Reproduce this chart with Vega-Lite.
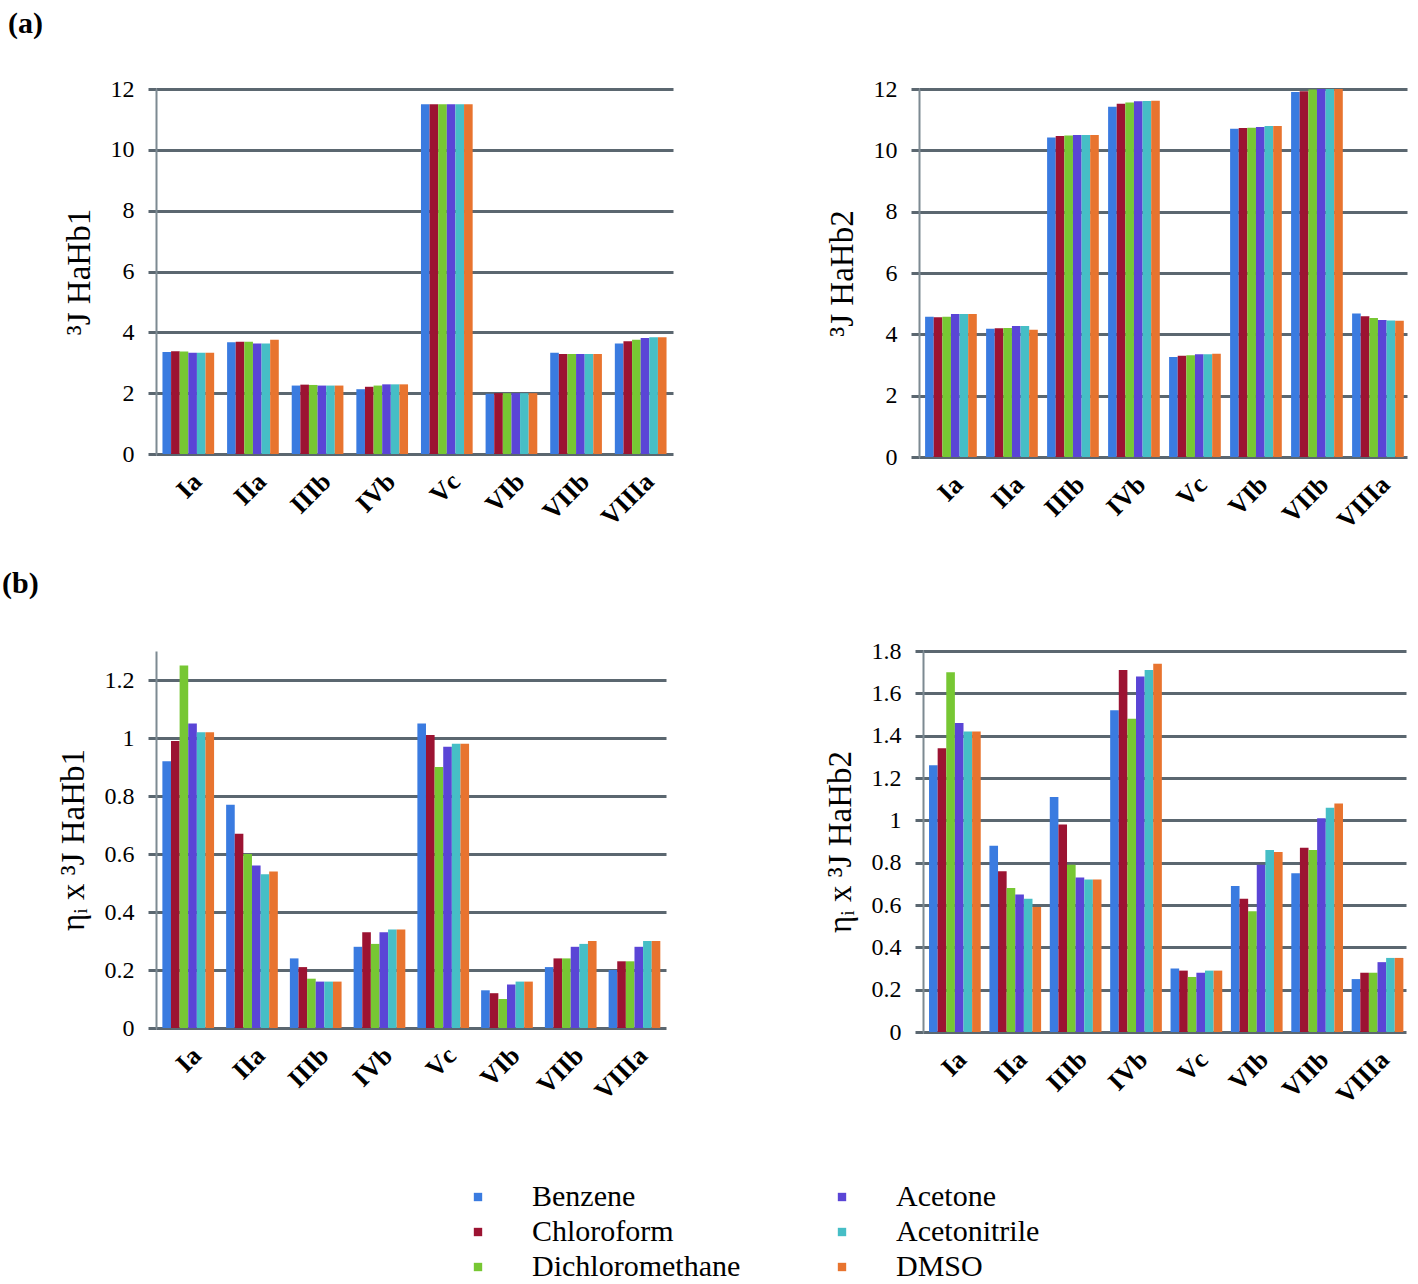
{
  "$schema": "https://vega.github.io/schema/vega-lite/v6.json",
  "padding": {"left": 2, "top": 9, "right": 10, "bottom": 2},
  "background": "white",
  "datasets": {
    "a1": [
      {"compound": "Ia", "solvent": "Benzene", "value": 3.35},
      {"compound": "Ia", "solvent": "Chloroform", "value": 3.38},
      {"compound": "Ia", "solvent": "Dichloromethane", "value": 3.37},
      {"compound": "Ia", "solvent": "Acetone", "value": 3.33},
      {"compound": "Ia", "solvent": "Acetonitrile", "value": 3.33},
      {"compound": "Ia", "solvent": "DMSO", "value": 3.33},
      {"compound": "IIa", "solvent": "Benzene", "value": 3.67},
      {"compound": "IIa", "solvent": "Chloroform", "value": 3.69},
      {"compound": "IIa", "solvent": "Dichloromethane", "value": 3.69},
      {"compound": "IIa", "solvent": "Acetone", "value": 3.63},
      {"compound": "IIa", "solvent": "Acetonitrile", "value": 3.63},
      {"compound": "IIa", "solvent": "DMSO", "value": 3.76},
      {"compound": "IIIb", "solvent": "Benzene", "value": 2.25},
      {"compound": "IIIb", "solvent": "Chloroform", "value": 2.28},
      {"compound": "IIIb", "solvent": "Dichloromethane", "value": 2.27},
      {"compound": "IIIb", "solvent": "Acetone", "value": 2.25},
      {"compound": "IIIb", "solvent": "Acetonitrile", "value": 2.25},
      {"compound": "IIIb", "solvent": "DMSO", "value": 2.25},
      {"compound": "IVb", "solvent": "Benzene", "value": 2.13},
      {"compound": "IVb", "solvent": "Chloroform", "value": 2.21},
      {"compound": "IVb", "solvent": "Dichloromethane", "value": 2.25},
      {"compound": "IVb", "solvent": "Acetone", "value": 2.29},
      {"compound": "IVb", "solvent": "Acetonitrile", "value": 2.29},
      {"compound": "IVb", "solvent": "DMSO", "value": 2.29},
      {"compound": "Vc", "solvent": "Benzene", "value": 11.5},
      {"compound": "Vc", "solvent": "Chloroform", "value": 11.5},
      {"compound": "Vc", "solvent": "Dichloromethane", "value": 11.5},
      {"compound": "Vc", "solvent": "Acetone", "value": 11.5},
      {"compound": "Vc", "solvent": "Acetonitrile", "value": 11.5},
      {"compound": "Vc", "solvent": "DMSO", "value": 11.5},
      {"compound": "VIb", "solvent": "Benzene", "value": 1.98},
      {"compound": "VIb", "solvent": "Chloroform", "value": 2.0},
      {"compound": "VIb", "solvent": "Dichloromethane", "value": 2.0},
      {"compound": "VIb", "solvent": "Acetone", "value": 2.0},
      {"compound": "VIb", "solvent": "Acetonitrile", "value": 2.0},
      {"compound": "VIb", "solvent": "DMSO", "value": 2.0},
      {"compound": "VIIb", "solvent": "Benzene", "value": 3.33},
      {"compound": "VIIb", "solvent": "Chloroform", "value": 3.29},
      {"compound": "VIIb", "solvent": "Dichloromethane", "value": 3.29},
      {"compound": "VIIb", "solvent": "Acetone", "value": 3.29},
      {"compound": "VIIb", "solvent": "Acetonitrile", "value": 3.29},
      {"compound": "VIIb", "solvent": "DMSO", "value": 3.29},
      {"compound": "VIIIa", "solvent": "Benzene", "value": 3.63},
      {"compound": "VIIIa", "solvent": "Chloroform", "value": 3.71},
      {"compound": "VIIIa", "solvent": "Dichloromethane", "value": 3.76},
      {"compound": "VIIIa", "solvent": "Acetone", "value": 3.81},
      {"compound": "VIIIa", "solvent": "Acetonitrile", "value": 3.84},
      {"compound": "VIIIa", "solvent": "DMSO", "value": 3.84}
    ],
    "a2": [
      {"compound": "Ia", "solvent": "Benzene", "value": 4.57},
      {"compound": "Ia", "solvent": "Chloroform", "value": 4.56},
      {"compound": "Ia", "solvent": "Dichloromethane", "value": 4.57},
      {"compound": "Ia", "solvent": "Acetone", "value": 4.66},
      {"compound": "Ia", "solvent": "Acetonitrile", "value": 4.66},
      {"compound": "Ia", "solvent": "DMSO", "value": 4.66},
      {"compound": "IIa", "solvent": "Benzene", "value": 4.18},
      {"compound": "IIa", "solvent": "Chloroform", "value": 4.2},
      {"compound": "IIa", "solvent": "Dichloromethane", "value": 4.21},
      {"compound": "IIa", "solvent": "Acetone", "value": 4.27},
      {"compound": "IIa", "solvent": "Acetonitrile", "value": 4.27},
      {"compound": "IIa", "solvent": "DMSO", "value": 4.15},
      {"compound": "IIIb", "solvent": "Benzene", "value": 10.42},
      {"compound": "IIIb", "solvent": "Chloroform", "value": 10.47},
      {"compound": "IIIb", "solvent": "Dichloromethane", "value": 10.48},
      {"compound": "IIIb", "solvent": "Acetone", "value": 10.5},
      {"compound": "IIIb", "solvent": "Acetonitrile", "value": 10.5},
      {"compound": "IIIb", "solvent": "DMSO", "value": 10.5},
      {"compound": "IVb", "solvent": "Benzene", "value": 11.42},
      {"compound": "IVb", "solvent": "Chloroform", "value": 11.52},
      {"compound": "IVb", "solvent": "Dichloromethane", "value": 11.56},
      {"compound": "IVb", "solvent": "Acetone", "value": 11.6},
      {"compound": "IVb", "solvent": "Acetonitrile", "value": 11.61},
      {"compound": "IVb", "solvent": "DMSO", "value": 11.62},
      {"compound": "Vc", "solvent": "Benzene", "value": 3.26},
      {"compound": "Vc", "solvent": "Chloroform", "value": 3.3},
      {"compound": "Vc", "solvent": "Dichloromethane", "value": 3.32},
      {"compound": "Vc", "solvent": "Acetone", "value": 3.35},
      {"compound": "Vc", "solvent": "Acetonitrile", "value": 3.35},
      {"compound": "Vc", "solvent": "DMSO", "value": 3.37},
      {"compound": "VIb", "solvent": "Benzene", "value": 10.7},
      {"compound": "VIb", "solvent": "Chloroform", "value": 10.73},
      {"compound": "VIb", "solvent": "Dichloromethane", "value": 10.74},
      {"compound": "VIb", "solvent": "Acetone", "value": 10.76},
      {"compound": "VIb", "solvent": "Acetonitrile", "value": 10.79},
      {"compound": "VIb", "solvent": "DMSO", "value": 10.79},
      {"compound": "VIIb", "solvent": "Benzene", "value": 11.9},
      {"compound": "VIIb", "solvent": "Chloroform", "value": 11.93},
      {"compound": "VIIb", "solvent": "Dichloromethane", "value": 11.98},
      {"compound": "VIIb", "solvent": "Acetone", "value": 12.0},
      {"compound": "VIIb", "solvent": "Acetonitrile", "value": 12.0},
      {"compound": "VIIb", "solvent": "DMSO", "value": 12.0},
      {"compound": "VIIIa", "solvent": "Benzene", "value": 4.68},
      {"compound": "VIIIa", "solvent": "Chloroform", "value": 4.59},
      {"compound": "VIIIa", "solvent": "Dichloromethane", "value": 4.53},
      {"compound": "VIIIa", "solvent": "Acetone", "value": 4.47},
      {"compound": "VIIIa", "solvent": "Acetonitrile", "value": 4.45},
      {"compound": "VIIIa", "solvent": "DMSO", "value": 4.44}
    ],
    "b1": [
      {"compound": "Ia", "solvent": "Benzene", "value": 0.92},
      {"compound": "Ia", "solvent": "Chloroform", "value": 0.99},
      {"compound": "Ia", "solvent": "Dichloromethane", "value": 1.25},
      {"compound": "Ia", "solvent": "Acetone", "value": 1.05},
      {"compound": "Ia", "solvent": "Acetonitrile", "value": 1.02},
      {"compound": "Ia", "solvent": "DMSO", "value": 1.02},
      {"compound": "IIa", "solvent": "Benzene", "value": 0.77},
      {"compound": "IIa", "solvent": "Chloroform", "value": 0.67},
      {"compound": "IIa", "solvent": "Dichloromethane", "value": 0.6},
      {"compound": "IIa", "solvent": "Acetone", "value": 0.56},
      {"compound": "IIa", "solvent": "Acetonitrile", "value": 0.53},
      {"compound": "IIa", "solvent": "DMSO", "value": 0.54},
      {"compound": "IIIb", "solvent": "Benzene", "value": 0.24},
      {"compound": "IIIb", "solvent": "Chloroform", "value": 0.21},
      {"compound": "IIIb", "solvent": "Dichloromethane", "value": 0.17},
      {"compound": "IIIb", "solvent": "Acetone", "value": 0.16},
      {"compound": "IIIb", "solvent": "Acetonitrile", "value": 0.16},
      {"compound": "IIIb", "solvent": "DMSO", "value": 0.16},
      {"compound": "IVb", "solvent": "Benzene", "value": 0.28},
      {"compound": "IVb", "solvent": "Chloroform", "value": 0.33},
      {"compound": "IVb", "solvent": "Dichloromethane", "value": 0.29},
      {"compound": "IVb", "solvent": "Acetone", "value": 0.33},
      {"compound": "IVb", "solvent": "Acetonitrile", "value": 0.34},
      {"compound": "IVb", "solvent": "DMSO", "value": 0.34},
      {"compound": "Vc", "solvent": "Benzene", "value": 1.05},
      {"compound": "Vc", "solvent": "Chloroform", "value": 1.01},
      {"compound": "Vc", "solvent": "Dichloromethane", "value": 0.9},
      {"compound": "Vc", "solvent": "Acetone", "value": 0.97},
      {"compound": "Vc", "solvent": "Acetonitrile", "value": 0.98},
      {"compound": "Vc", "solvent": "DMSO", "value": 0.98},
      {"compound": "VIb", "solvent": "Benzene", "value": 0.13},
      {"compound": "VIb", "solvent": "Chloroform", "value": 0.12},
      {"compound": "VIb", "solvent": "Dichloromethane", "value": 0.1},
      {"compound": "VIb", "solvent": "Acetone", "value": 0.15},
      {"compound": "VIb", "solvent": "Acetonitrile", "value": 0.16},
      {"compound": "VIb", "solvent": "DMSO", "value": 0.16},
      {"compound": "VIIb", "solvent": "Benzene", "value": 0.21},
      {"compound": "VIIb", "solvent": "Chloroform", "value": 0.24},
      {"compound": "VIIb", "solvent": "Dichloromethane", "value": 0.24},
      {"compound": "VIIb", "solvent": "Acetone", "value": 0.28},
      {"compound": "VIIb", "solvent": "Acetonitrile", "value": 0.29},
      {"compound": "VIIb", "solvent": "DMSO", "value": 0.3},
      {"compound": "VIIIa", "solvent": "Benzene", "value": 0.2},
      {"compound": "VIIIa", "solvent": "Chloroform", "value": 0.23},
      {"compound": "VIIIa", "solvent": "Dichloromethane", "value": 0.23},
      {"compound": "VIIIa", "solvent": "Acetone", "value": 0.28},
      {"compound": "VIIIa", "solvent": "Acetonitrile", "value": 0.3},
      {"compound": "VIIIa", "solvent": "DMSO", "value": 0.3}
    ],
    "b2": [
      {"compound": "Ia", "solvent": "Benzene", "value": 1.26},
      {"compound": "Ia", "solvent": "Chloroform", "value": 1.34},
      {"compound": "Ia", "solvent": "Dichloromethane", "value": 1.7},
      {"compound": "Ia", "solvent": "Acetone", "value": 1.46},
      {"compound": "Ia", "solvent": "Acetonitrile", "value": 1.42},
      {"compound": "Ia", "solvent": "DMSO", "value": 1.42},
      {"compound": "IIa", "solvent": "Benzene", "value": 0.88},
      {"compound": "IIa", "solvent": "Chloroform", "value": 0.76},
      {"compound": "IIa", "solvent": "Dichloromethane", "value": 0.68},
      {"compound": "IIa", "solvent": "Acetone", "value": 0.65},
      {"compound": "IIa", "solvent": "Acetonitrile", "value": 0.63},
      {"compound": "IIa", "solvent": "DMSO", "value": 0.59},
      {"compound": "IIIb", "solvent": "Benzene", "value": 1.11},
      {"compound": "IIIb", "solvent": "Chloroform", "value": 0.98},
      {"compound": "IIIb", "solvent": "Dichloromethane", "value": 0.79},
      {"compound": "IIIb", "solvent": "Acetone", "value": 0.73},
      {"compound": "IIIb", "solvent": "Acetonitrile", "value": 0.72},
      {"compound": "IIIb", "solvent": "DMSO", "value": 0.72},
      {"compound": "IVb", "solvent": "Benzene", "value": 1.52},
      {"compound": "IVb", "solvent": "Chloroform", "value": 1.71},
      {"compound": "IVb", "solvent": "Dichloromethane", "value": 1.48},
      {"compound": "IVb", "solvent": "Acetone", "value": 1.68},
      {"compound": "IVb", "solvent": "Acetonitrile", "value": 1.71},
      {"compound": "IVb", "solvent": "DMSO", "value": 1.74},
      {"compound": "Vc", "solvent": "Benzene", "value": 0.3},
      {"compound": "Vc", "solvent": "Chloroform", "value": 0.29},
      {"compound": "Vc", "solvent": "Dichloromethane", "value": 0.26},
      {"compound": "Vc", "solvent": "Acetone", "value": 0.28},
      {"compound": "Vc", "solvent": "Acetonitrile", "value": 0.29},
      {"compound": "Vc", "solvent": "DMSO", "value": 0.29},
      {"compound": "VIb", "solvent": "Benzene", "value": 0.69},
      {"compound": "VIb", "solvent": "Chloroform", "value": 0.63},
      {"compound": "VIb", "solvent": "Dichloromethane", "value": 0.57},
      {"compound": "VIb", "solvent": "Acetone", "value": 0.79},
      {"compound": "VIb", "solvent": "Acetonitrile", "value": 0.86},
      {"compound": "VIb", "solvent": "DMSO", "value": 0.85},
      {"compound": "VIIb", "solvent": "Benzene", "value": 0.75},
      {"compound": "VIIb", "solvent": "Chloroform", "value": 0.87},
      {"compound": "VIIb", "solvent": "Dichloromethane", "value": 0.86},
      {"compound": "VIIb", "solvent": "Acetone", "value": 1.01},
      {"compound": "VIIb", "solvent": "Acetonitrile", "value": 1.06},
      {"compound": "VIIb", "solvent": "DMSO", "value": 1.08},
      {"compound": "VIIIa", "solvent": "Benzene", "value": 0.25},
      {"compound": "VIIIa", "solvent": "Chloroform", "value": 0.28},
      {"compound": "VIIIa", "solvent": "Dichloromethane", "value": 0.28},
      {"compound": "VIIIa", "solvent": "Acetone", "value": 0.33},
      {"compound": "VIIIa", "solvent": "Acetonitrile", "value": 0.35},
      {"compound": "VIIIa", "solvent": "DMSO", "value": 0.35}
    ]
  },
  "vconcat": [
    {
      "title": {"text": "(a)", "anchor": "start", "frame": "bounds", "dx": -55, "offset": 38},
      "spacing": 153,
      "hconcat": [
        {
          "width": 517, "height": 365,
          "data": {"name": "a1"},
          "mark": {"type": "bar"},
          "encoding": {
            "x": {"field": "compound", "type": "nominal", "title": null,
                  "sort": ["Ia", "IIa", "IIIb", "IVb", "Vc", "VIb", "VIIb", "VIIIa"],
                  "scale": {"paddingInner": 0.2, "paddingOuter": 0.1}},
            "xOffset": {"field": "solvent", "type": "nominal",
                        "sort": ["Benzene", "Chloroform", "Dichloromethane", "Acetone", "Acetonitrile", "DMSO"]},
            "y": {"field": "value", "type": "quantitative", "title": "³J HaHb1",
                  "scale": {"domain": [0, 12]}, "axis": {"values": [0, 2, 4, 6, 8, 10, 12]}},
            "color": {"field": "solvent", "type": "nominal",
                      "scale": {"domain": ["Benzene", "Acetone", "Chloroform", "Acetonitrile", "Dichloromethane", "DMSO"],
                                "range": ["#3a7be0", "#5a45d6", "#9c1332", "#46bec6", "#77c733", "#e8742f"]}}
          }
        },
        {
          "width": 488, "height": 368,
          "data": {"name": "a2"},
          "mark": {"type": "bar"},
          "encoding": {
            "x": {"field": "compound", "type": "nominal", "title": null,
                  "sort": ["Ia", "IIa", "IIIb", "IVb", "Vc", "VIb", "VIIb", "VIIIa"],
                  "scale": {"paddingInner": 0.2, "paddingOuter": 0.1}},
            "xOffset": {"field": "solvent", "type": "nominal",
                        "sort": ["Benzene", "Chloroform", "Dichloromethane", "Acetone", "Acetonitrile", "DMSO"]},
            "y": {"field": "value", "type": "quantitative", "title": "³J HaHb2",
                  "scale": {"domain": [0, 12]}, "axis": {"values": [0, 2, 4, 6, 8, 10, 12]}},
            "color": {"field": "solvent", "type": "nominal"}
          }
        }
      ]
    },
    {
      "title": {"text": "(b)", "anchor": "start", "frame": "bounds", "dx": -55, "offset": 40},
      "spacing": 158,
      "hconcat": [
        {
          "width": 510, "height": 377,
          "data": {"name": "b1"},
          "mark": {"type": "bar"},
          "encoding": {
            "x": {"field": "compound", "type": "nominal", "title": null,
                  "sort": ["Ia", "IIa", "IIIb", "IVb", "Vc", "VIb", "VIIb", "VIIIa"],
                  "scale": {"paddingInner": 0.2, "paddingOuter": 0.1}},
            "xOffset": {"field": "solvent", "type": "nominal",
                        "sort": ["Benzene", "Chloroform", "Dichloromethane", "Acetone", "Acetonitrile", "DMSO"]},
            "y": {"field": "value", "type": "quantitative", "title": "ηᵢ  x  ³J HaHb1",
                  "scale": {"domain": [0, 1.3]}, "axis": {"values": [0, 0.2, 0.4, 0.6, 0.8, 1, 1.2], "format": "~g"}},
            "color": {"field": "solvent", "type": "nominal"}
          }
        },
        {
          "width": 483, "height": 381,
          "data": {"name": "b2"},
          "mark": {"type": "bar"},
          "encoding": {
            "x": {"field": "compound", "type": "nominal", "title": null,
                  "sort": ["Ia", "IIa", "IIIb", "IVb", "Vc", "VIb", "VIIb", "VIIIa"],
                  "scale": {"paddingInner": 0.2, "paddingOuter": 0.1}},
            "xOffset": {"field": "solvent", "type": "nominal",
                        "sort": ["Benzene", "Chloroform", "Dichloromethane", "Acetone", "Acetonitrile", "DMSO"]},
            "y": {"field": "value", "type": "quantitative", "title": "ηᵢ  x  ³J HaHb2",
                  "scale": {"domain": [0, 1.8]}, "axis": {"values": [0, 0.2, 0.4, 0.6, 0.8, 1, 1.2, 1.4, 1.6, 1.8], "format": "~g"}},
            "color": {"field": "solvent", "type": "nominal"}
          }
        }
      ]
    }
  ],
  "spacing": 35,
  "config": {
    "font": "Liberation Serif",
    "view": {"stroke": null},
    "title": {"fontSize": 30, "fontWeight": "bold", "font": "Liberation Serif", "color": "black"},
    "axis": {"labelFont": "Liberation Serif", "titleFont": "Liberation Serif"},
    "axisY": {
      "gridColor": "#5b6770", "gridWidth": 3, "gridOpacity": 1,
      "domainColor": "#7d8a92", "domainWidth": 2,
      "tickColor": "#5b6770", "tickWidth": 3, "tickSize": 8,
      "labelFont": "Liberation Serif", "labelFontSize": 24, "labelPadding": 14, "labelColor": "black",
      "titleFont": "Liberation Serif", "titleFontSize": 33, "titleFontWeight": "normal", "titleColor": "black", "titlePadding": 14
    },
    "axisX": {
      "domain": false, "ticks": false, "grid": false,
      "labelFont": "Liberation Serif", "labelFontSize": 26, "labelFontWeight": "bold", "labelAngle": -45, "labelColor": "black", "labelPadding": 14
    },
    "legend": {
      "orient": "none", "legendX": 307, "legendY": 1093,
      "title": null, "columns": 2, "direction": "horizontal",
      "symbolType": "square", "symbolSize": 70, "symbolStrokeWidth": 0,
      "labelFont": "Liberation Serif", "labelFontSize": 30, "labelColor": "black", "labelOffset": 39, "labelLimit": 400,
      "columnPadding": 86, "rowPadding": 5
    }
  }
}
